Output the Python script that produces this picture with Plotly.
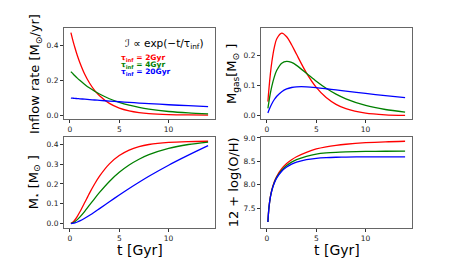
import plotly.graph_objects as go

# ---- data ----
t_gyr = [0.1, 0.2, 0.35, 0.5, 0.75, 1, 1.5, 2, 2.5, 3, 4, 5, 6, 7, 8, 10, 12, 14]

series_names = ["τ<sub>inf</sub> = 2Gyr", "τ<sub>inf</sub> = 4Gyr", "τ<sub>inf</sub> = 20Gyr"]
series_colors = ["#ff0000", "#008000", "#0000ff"]

inflow_2 = [0.476, 0.453, 0.420, 0.390, 0.344, 0.304, 0.236, 0.184, 0.143, 0.112, 0.068, 0.041, 0.025, 0.015, 0.009, 0.0034, 0.0012, 0.0004]
inflow_4 = [0.2514, 0.2452, 0.2362, 0.2275, 0.2137, 0.2008, 0.1772, 0.1564, 0.1380, 0.1218, 0.0948, 0.0739, 0.0575, 0.0448, 0.0349, 0.0212, 0.0128, 0.0076]
inflow_20 = [0.0988, 0.0983, 0.0976, 0.0968, 0.0956, 0.0945, 0.0921, 0.0898, 0.0876, 0.0855, 0.0813, 0.0773, 0.0736, 0.0700, 0.0666, 0.0602, 0.0545, 0.0491]

mgas_2 = [0.0467, 0.0872, 0.1380, 0.1780, 0.2254, 0.2538, 0.2723, 0.2603, 0.2341, 0.2025, 0.1414, 0.0937, 0.0601, 0.0378, 0.0235, 0.0089, 0.0033, 0.0012]
mgas_4 = [0.0244, 0.0461, 0.0744, 0.0979, 0.1283, 0.1498, 0.1732, 0.1794, 0.1756, 0.1661, 0.1404, 0.1140, 0.0907, 0.0714, 0.0560, 0.0341, 0.0207, 0.0123]
mgas_20 = [0.0095, 0.0181, 0.0297, 0.0397, 0.0536, 0.0645, 0.0795, 0.0884, 0.0932, 0.0954, 0.0955, 0.0928, 0.0891, 0.0851, 0.0811, 0.0735, 0.0665, 0.0599]

mstar_2 = [0.0009, 0.0034, 0.0094, 0.0181, 0.0365, 0.0583, 0.1064, 0.1549, 0.1997, 0.2393, 0.3013, 0.3432, 0.3707, 0.3881, 0.3990, 0.4099, 0.4140, 0.4155]
mstar_4 = [0.0005, 0.0017, 0.0050, 0.0097, 0.0200, 0.0326, 0.0621, 0.0942, 0.1263, 0.1572, 0.2127, 0.2587, 0.2955, 0.3247, 0.3477, 0.3796, 0.3990, 0.4112]
mstar_20 = [0.0002, 0.0007, 0.0020, 0.0039, 0.0081, 0.0135, 0.0267, 0.0419, 0.0583, 0.0754, 0.1101, 0.1441, 0.1771, 0.2086, 0.2387, 0.2945, 0.3451, 0.3930]

oh_2 = [7.20, 7.50, 7.744, 7.894, 8.064, 8.182, 8.343, 8.454, 8.535, 8.599, 8.693, 8.765, 8.810, 8.842, 8.866, 8.899, 8.919, 8.930]
oh_4 = [7.20, 7.50, 7.737, 7.885, 8.049, 8.162, 8.313, 8.412, 8.483, 8.535, 8.606, 8.655, 8.680, 8.694, 8.702, 8.712, 8.716, 8.717]
oh_20 = [7.20, 7.498, 7.732, 7.877, 8.037, 8.146, 8.288, 8.378, 8.440, 8.483, 8.537, 8.565, 8.580, 8.588, 8.592, 8.595, 8.596, 8.596]

x_ticks = [0, 5, 10]

W, H = 449, 265

def px_x(p):
    return p / W

def px_y(p):
    return 1 - p / H

panels = [
    ([inflow_2, inflow_4, inflow_20], (56, 207), (17, 110), [-0.024, 0.504], [0.0, 0.2, 0.4], ".1f"),
    ([mgas_2, mgas_4, mgas_20], (253, 404), (17, 110), [-0.0117, 0.290], [0.0, 0.1, 0.2], ".1f"),
    ([mstar_2, mstar_4, mstar_20], (56, 207), (128, 220), [-0.0206, 0.4365], [0.0, 0.1, 0.2, 0.3, 0.4], ".1f"),
    ([oh_2, oh_4, oh_20], (253, 404), (128, 220), [7.08, 9.02], [7.5, 8.0, 8.5, 9.0], ".1f"),
]

fig = go.Figure()
layout = dict(
    width=W, height=H, margin=dict(l=0, r=0, t=0, b=0),
    paper_bgcolor="white", plot_bgcolor="white", showlegend=False,
    font=dict(family="DejaVu Sans", color="#222"),
)

tickfont = dict(family="DejaVu Sans", size=7.5, color="#222")

for i, (vals, xd, yd, yr, yt, fmt) in enumerate(panels):
    k = "" if i == 0 else str(i + 1)
    for v, c, n in zip(vals, series_colors, series_names):
        fig.add_trace(go.Scatter(
            x=t_gyr, y=v, mode="lines", name=n,
            line=dict(color=c, width=1.3, shape="spline", smoothing=0.8),
            xaxis="x" + k, yaxis="y" + k,
        ))
    layout["xaxis" + k] = dict(
        domain=[px_x(xd[0]), px_x(xd[1])], anchor="y" + k,
        range=[-0.6, 14.7], tickvals=x_ticks, ticks="outside", ticklen=3,
        tickwidth=0.8, tickcolor="#333", showline=True, mirror=True,
        linecolor="#666", linewidth=1, showgrid=False, zeroline=False,
        tickfont=tickfont,
    )
    layout["yaxis" + k] = dict(
        domain=[px_y(yd[1]), px_y(yd[0])], anchor="x" + k,
        range=yr, tickvals=yt, tickformat=fmt, ticks="outside", ticklen=3,
        tickwidth=0.8, tickcolor="#333", showline=True, mirror=True,
        linecolor="#666", linewidth=1, showgrid=False, zeroline=False,
        tickfont=tickfont,
    )

fig.update_layout(**layout)

lab_font = dict(family="DejaVu Sans", size=13, color="black")
annots = []
ylabels = [
    ("Inflow rate [M<sub>⊙</sub>/yr]", 27, 64),
    ("M<sub>gas</sub>[M<sub>⊙</sub> ]", 224, 64),
    ("M<sub>⋆</sub> [M<sub>⊙</sub> ]", 26, 174),
    ("12 + log(O/H)", 225, 174),
]
for txt, xp, yp in ylabels:
    annots.append(dict(text=txt, x=px_x(xp), y=px_y(yp), xref="paper", yref="paper",
                       showarrow=False, textangle=-90, font=lab_font,
                       xanchor="center", yanchor="middle"))
for xp in (131.5, 328.5):
    annots.append(dict(text="t [Gyr]", x=px_x(xp), y=px_y(243), xref="paper", yref="paper",
                       showarrow=False, font=dict(family="DejaVu Sans", size=14, color="black"),
                       xanchor="center", yanchor="middle"))

annots.append(dict(text="ℐ ∝ exp(−t/τ<sub>inf</sub>)", x=px_x(156), y=px_y(34),
                   xref="paper", yref="paper", showarrow=False, xanchor="center", yanchor="middle",
                   font=dict(family="DejaVu Sans", size=10.5, color="black")))
for j, (n, c) in enumerate(zip(series_names, series_colors)):
    annots.append(dict(text="<b>" + n + "</b>", x=px_x(111), y=px_y(48 + 7 * j),
                       xref="paper", yref="paper", showarrow=False, xanchor="left", yanchor="middle",
                       font=dict(family="DejaVu Sans", size=7.5, color=c)))

fig.update_layout(annotations=annots)
fig.write_html("out.html")
